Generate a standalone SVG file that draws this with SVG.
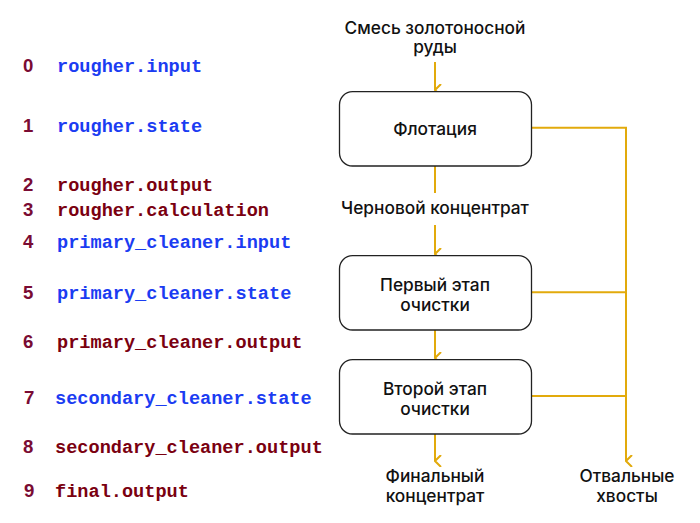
<svg xmlns="http://www.w3.org/2000/svg" width="700" height="523" viewBox="0 0 700 523">
<style>
.num{font-family:"Liberation Sans",Arial,sans-serif;font-weight:bold;font-size:18.6px;fill:#7a0b33}
.b{font-family:"Liberation Mono","Courier New",monospace;font-weight:bold;font-size:18.6px;fill:#1b3cf2}
.r{font-family:"Liberation Mono","Courier New",monospace;font-weight:bold;font-size:18.6px;fill:#7a0010}
.t{font-family:Inter,"Noto Sans",sans-serif;font-size:17.3px;font-weight:500;fill:#111;text-anchor:middle}
.box{fill:#fff;stroke:#222;stroke-width:1.3}
.c{fill:none;stroke:#e2aa0c;stroke-width:2}
</style>
<defs>
<marker id="ah" viewBox="0 0 12 8" refX="6" refY="7" markerWidth="12" markerHeight="8" markerUnits="userSpaceOnUse" orient="auto-start-reverse">
<path d="M0,1 L6,7 L12,1" fill="none" stroke="#e2aa0c" stroke-width="2"/>
</marker>
</defs>
<rect width="700" height="523" fill="#fff"/>
<g id="list">
<text class="num" x="23" y="72">0</text><text class="b" x="57" y="72">rougher.input</text>
<text class="num" x="23" y="132">1</text><text class="b" x="57" y="132">rougher.state</text>
<text class="num" x="23" y="191">2</text><text class="r" x="57" y="191">rougher.output</text>
<text class="num" x="23" y="216">3</text><text class="r" x="57" y="216">rougher.calculation</text>
<text class="num" x="23" y="248">4</text><text class="b" x="57" y="248">primary_cleaner.input</text>
<text class="num" x="23" y="299">5</text><text class="b" x="57" y="299">primary_cleaner.state</text>
<text class="num" x="23" y="348">6</text><text class="r" x="57" y="348">primary_cleaner.output</text>
<text class="num" x="24" y="404">7</text><text class="b" x="55" y="404">secondary_cleaner.state</text>
<text class="num" x="23" y="453">8</text><text class="r" x="55" y="453">secondary_cleaner.output</text>
<text class="num" x="24" y="497">9</text><text class="r" x="55" y="497">final.output</text>
</g>
<g id="connectors">
<path class="c" d="M435,62 V90" marker-end="url(#ah)"/>
<path class="c" d="M435,166 V193"/>
<path class="c" d="M435,225 V254" marker-end="url(#ah)"/>
<path class="c" d="M435,330 V358" marker-end="url(#ah)"/>
<path class="c" d="M435,434 V461" marker-end="url(#ah)"/>
<path class="c" d="M531.5,127.7 H626 V461" marker-end="url(#ah)"/>
<path class="c" d="M531.5,292.3 H626"/>
<path class="c" d="M531.5,396 H626"/>
</g>
<g id="input-label"><text class="t" x="435" y="34">Смесь золотоносной</text><text class="t" x="435" y="53">руды</text></g>
<g id="flotation"><rect class="box" x="339.5" y="91.7" width="192" height="74.3" rx="13"/><text class="t" x="435" y="135">Флотация</text></g>
<g id="rough-concentrate"><text class="t" x="435" y="214">Черновой концентрат</text></g>
<g id="primary-cleaner"><rect class="box" x="339.5" y="255.7" width="192" height="74.3" rx="13"/><text class="t" x="435" y="291">Первый этап</text><text class="t" x="435" y="311">очистки</text></g>
<g id="secondary-cleaner"><rect class="box" x="339.5" y="359.7" width="192" height="74.3" rx="13"/><text class="t" x="435" y="395">Второй этап</text><text class="t" x="435" y="415">очистки</text></g>
<g id="final-concentrate"><text class="t" x="435" y="482">Финальный</text><text class="t" x="435" y="502">концентрат</text></g>
<g id="tailings"><text class="t" x="627" y="482">Отвальные</text><text class="t" x="627" y="502">хвосты</text></g>
</svg>
